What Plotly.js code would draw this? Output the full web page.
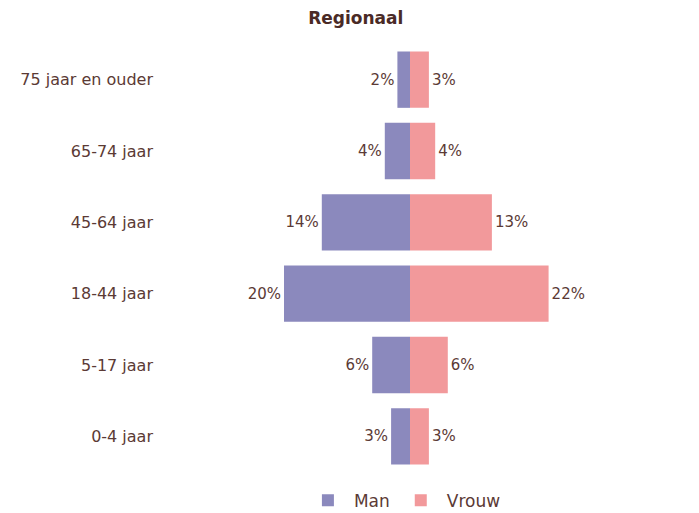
<!DOCTYPE html>
<html>
<head>
<meta charset="utf-8">
<script src="https://cdn.plot.ly/plotly-3.0.1.min.js"></script>
<style>html,body{margin:0;padding:0;background:#fff;}#chart{width:699px;height:513px;}</style>
</head>
<body>
<div id="chart"></div>
<script>
// Leeftijdsgroepen, van jong (onder) naar oud (boven)
const ageGroups = ['0-4 jaar', '5-17 jaar', '18-44 jaar', '45-64 jaar', '65-74 jaar', '75 jaar en ouder'];
// Aandeel per geslacht in procenten
const manPct = [3, 6, 20, 14, 4, 2];
const vrouwPct = [3, 6, 22, 13, 4, 3];

const textColor = '#5b3a35';
const font = 'DejaVu Sans, sans-serif';

const traceMan = {
  type: 'bar', orientation: 'h', name: 'Man',
  y: ageGroups, x: manPct.map(v => -v),
  text: manPct.map(v => v + '%'), textposition: 'outside',
  marker: {color: '#8b89bd'},
  textfont: {color: textColor, size: 15, family: font},
  cliponaxis: false, hoverinfo: 'skip'
};
const traceVrouw = {
  type: 'bar', orientation: 'h', name: 'Vrouw',
  y: ageGroups, x: vrouwPct,
  text: vrouwPct.map(v => v + '%'), textposition: 'outside',
  marker: {color: '#f2999b'},
  textfont: {color: textColor, size: 15, family: font},
  cliponaxis: false, hoverinfo: 'skip'
};

const layout = {
  width: 699, height: 513,
  margin: {l: 158, r: 20, t: 44, b: 41, autoexpand: false},
  paper_bgcolor: '#fff', plot_bgcolor: '#fff',
  font: {family: font, color: textColor, size: 16},
  title: {text: '<b>Regionaal</b>', x: 0.509, xanchor: 'center', y: 0.965, yanchor: 'middle',
          font: {size: 17, color: '#4a2a26', family: font}},
  barmode: 'overlay', bargap: 0.21,
  xaxis: {range: [-40, 42.7], visible: false, fixedrange: true},
  yaxis: {categoryorder: 'array', categoryarray: ageGroups, showgrid: false, zeroline: false,
          showline: false, ticks: '', tickfont: {size: 16, color: textColor}, ticklabelstandoff: 4},
  showlegend: true,
  legend: {orientation: 'h', x: 0.472, xanchor: 'center', yref: 'container', y: 0.024, yanchor: 'middle',
           font: {size: 17, color: textColor}, itemwidth: 42, tracegroupgap: 0}
};

Plotly.newPlot('chart', [traceMan, traceVrouw], layout, {displayModeBar: false, staticPlot: true});
</script>
</body>
</html>
